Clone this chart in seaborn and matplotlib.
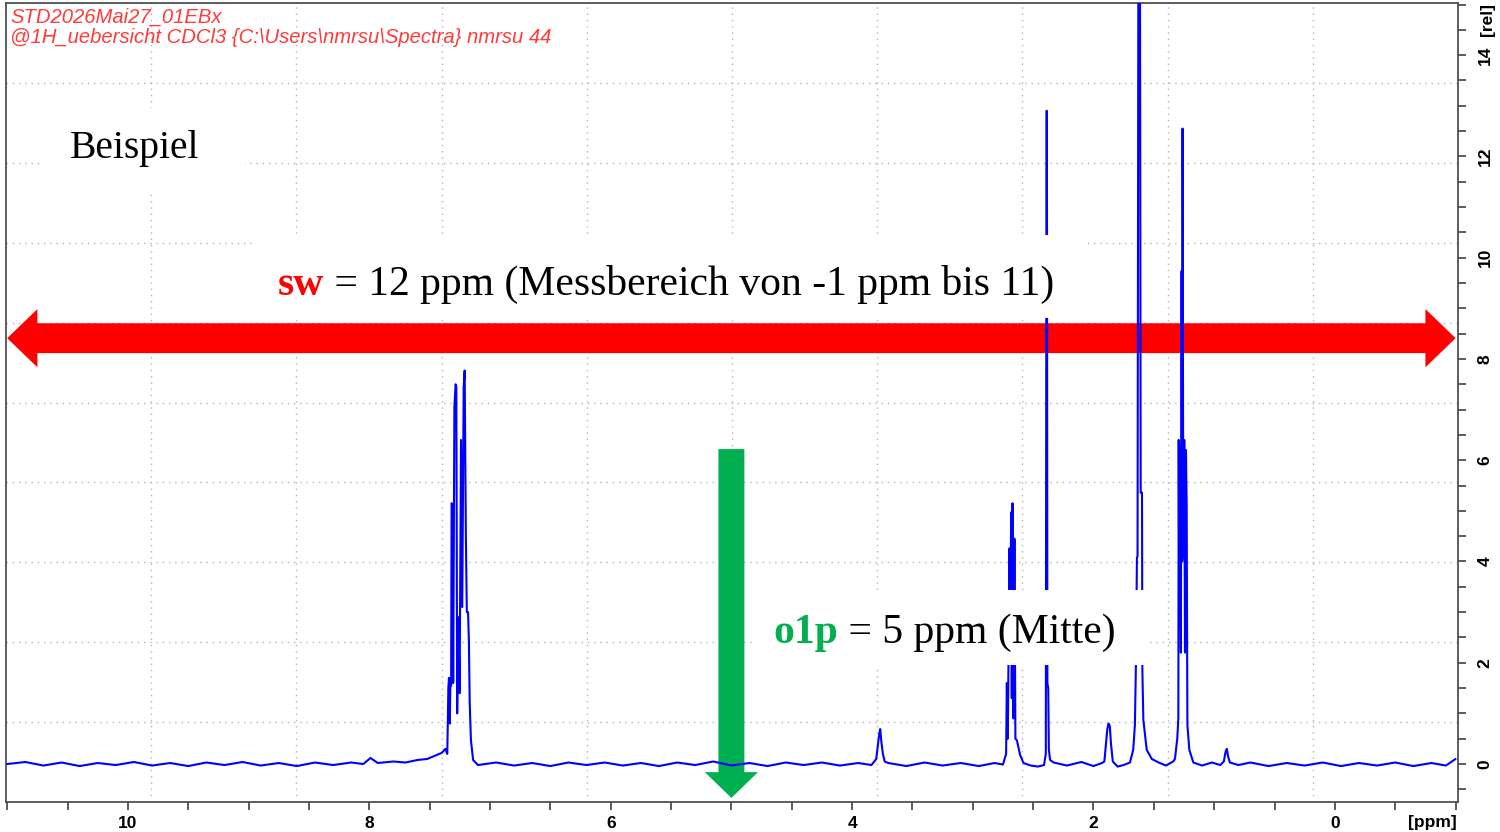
import matplotlib
matplotlib.use("Agg")
import matplotlib.pyplot as plt
from matplotlib.patches import Rectangle, FancyArrow, Polygon
from matplotlib.ticker import MultipleLocator
import pandas as pd
import seaborn as sns

# header of the spectrum window
title_1 = "STD2026Mai27_01EBx"
title_2 = "@1H_uebersicht CDCl3 {C:\\Users\\nmrsu\\Spectra} nmrsu 44"

# spectral window (ppm) and transmitter offset
sw_left = 11.0
sw_right = -1.0
o1p = 5.0

# spectrum trace, (ppm, rel), region by region
base_low = [(11.00, 0.00), (10.85, 0.04), (10.70, -0.03), (10.55, 0.03), (10.40, -0.04),
            (10.25, 0.02), (10.10, -0.02), (9.95, 0.04), (9.80, -0.03), (9.65, 0.02),
            (9.50, -0.04), (9.35, 0.03), (9.20, -0.02), (9.05, 0.04), (8.90, -0.03),
            (8.75, 0.02), (8.60, -0.04), (8.45, 0.03), (8.30, -0.02), (8.15, 0.03),
            (8.05, 0.00), (7.99, 0.12), (7.93, 0.02), (7.80, 0.05), (7.70, 0.03),
            (7.60, 0.08), (7.52, 0.10), (7.46, 0.16), (7.40, 0.22), (7.37, 0.30)]
arom = [(7.354, 0.20), (7.345, 1.50), (7.340, 1.70), (7.333, 0.80), (7.328, 1.70),
        (7.322, 1.55), (7.318, 5.15), (7.312, 5.10), (7.305, 1.60), (7.295, 7.05),
        (7.285, 7.50), (7.279, 7.45), (7.272, 1.00), (7.262, 2.90), (7.252, 1.40),
        (7.240, 6.40), (7.230, 3.10), (7.218, 7.45), (7.210, 7.77), (7.200, 4.50),
        (7.192, 3.00), (7.182, 3.00), (7.175, 2.45), (7.168, 1.20), (7.158, 0.47),
        (7.140, 0.08)]
base_mid = [(7.10, -0.02), (6.95, 0.03), (6.80, -0.03), (6.65, 0.02), (6.50, -0.04),
            (6.35, 0.03), (6.20, -0.02), (6.05, 0.03), (5.90, -0.03), (5.75, 0.02),
            (5.60, -0.04), (5.45, 0.03), (5.30, -0.02), (5.15, 0.05), (5.00, -0.03),
            (4.85, 0.02), (4.70, -0.04), (4.55, 0.03), (4.40, -0.02), (4.25, 0.03),
            (4.10, -0.03), (3.95, 0.02), (3.84, -0.02)]
peak_378 = [(3.800, 0.10), (3.785, 0.40), (3.775, 0.60), (3.767, 0.69), (3.758, 0.45),
            (3.745, 0.20), (3.730, 0.05)]
base_3 = [(3.70, 0.02), (3.55, -0.04), (3.40, 0.03), (3.25, -0.03), (3.10, 0.02),
          (2.95, -0.04), (2.82, 0.02), (2.75, -0.01)]
mult_27 = [(2.724, 0.20), (2.718, 1.60), (2.710, 0.50), (2.696, 4.26), (2.691, 2.20),
           (2.682, 4.97), (2.677, 1.30), (2.671, 5.15), (2.663, 0.90), (2.655, 4.45),
           (2.647, 0.50), (2.635, 0.47), (2.608, 0.18), (2.580, 0.02)]
base_25 = [(2.52, -0.03), (2.46, -0.05), (2.41, -0.02)]
peak_24 = [(2.395, 0.20), (2.389, 12.90), (2.386, 12.90), (2.382, 1.60), (2.375, 1.50),
           (2.370, 0.30), (2.360, 0.08)]
base_2 = [(2.33, 0.03), (2.22, -0.03), (2.10, 0.04), (2.00, -0.04), (1.93, 0.02)]
peak_187 = [(1.910, 0.05), (1.895, 0.45), (1.885, 0.70), (1.875, 0.80), (1.865, 0.75),
            (1.855, 0.40), (1.840, 0.05)]
base_18 = [(1.80, -0.05), (1.75, -0.02), (1.71, 0.02)]
peak_162 = [(1.698, 0.03), (1.671, 0.28), (1.657, 0.77), (1.649, 1.90), (1.640, 4.08),
            (1.635, 4.10), (1.628, 16.0), (1.615, 16.0), (1.609, 5.36), (1.598, 5.36),
            (1.595, 1.85), (1.587, 0.87), (1.559, 0.28), (1.517, 0.10)]
base_14 = [(1.46, 0.03), (1.40, -0.03), (1.34, 0.05)]
peak_127 = [(1.325, 0.10), (1.306, 0.50), (1.297, 0.90), (1.294, 6.40), (1.289, 2.70),
            (1.284, 6.30), (1.276, 2.20), (1.270, 9.74), (1.265, 4.00), (1.262, 12.55),
            (1.256, 4.10), (1.248, 6.40), (1.242, 2.20), (1.234, 6.20), (1.228, 5.10),
            (1.222, 0.77), (1.206, 0.28), (1.173, 0.03)]
base_1 = [(1.10, -0.03), (1.02, 0.03), (0.95, -0.02)]
bump_09 = [(0.920, 0.05), (0.905, 0.25), (0.895, 0.30), (0.885, 0.15), (0.870, 0.03)]
base_high = [(0.80, -0.02), (0.70, 0.03), (0.55, -0.04), (0.40, 0.02), (0.25, -0.03),
             (0.10, 0.03), (-0.05, -0.04), (-0.20, 0.02), (-0.35, -0.03), (-0.50, 0.03),
             (-0.65, -0.04), (-0.80, 0.02), (-0.92, -0.03), (-1.00, 0.10)]

regions = [base_low, arom, base_mid, peak_378, base_3, mult_27, base_25, peak_24,
           base_2, peak_187, base_18, peak_162, base_14, peak_127, base_1, bump_09,
           base_high]

W, H = 1500, 832


def fx(px):
    return px / W


def fy(py):
    return 1 - py / H


pts = [p for r in regions for p in r]
df = pd.DataFrame(pts, columns=["ppm", "rel"])

sns.set_style("white")
plt.rcParams['font.family'] = ['Liberation Sans', 'DejaVu Sans']
plt.rcParams['text.color'] = 'black'

fig = plt.figure(figsize=(15, 8.32), dpi=100)
ax = fig.add_axes([fx(6), fy(802), fx(1458) - fx(6), fy(3) - fy(802)])

sns.lineplot(data=df, x="ppm", y="rel", estimator=None, sort=False,
             color="#0000ff", lw=1.5, ax=ax, zorder=3)

ax.set_xlim(11.01, -1.02)
ax.set_ylim(-0.75, 15.03)

# dotted grid every tenth of the frame
for f in [0.1, 0.2, 0.3, 0.4, 0.5, 0.6, 0.7, 0.8, 0.9]:
    ax.plot([f, f], [0, 1], transform=ax.transAxes, color="#b4b4b4",
            ls=(0, (1, 3.5)), lw=1.0, zorder=1)
    ax.plot([0, 1], [f, f], transform=ax.transAxes, color="#b4b4b4",
            ls=(0, (1, 3.5)), lw=1.0, zorder=1)

ax.xaxis.set_major_locator(MultipleLocator(2))
ax.xaxis.set_minor_locator(MultipleLocator(0.5))
ax.yaxis.set_major_locator(MultipleLocator(2))
ax.yaxis.set_minor_locator(MultipleLocator(0.5))
ax.yaxis.tick_right()
ax.tick_params(axis="both", which="both", direction="out", length=6, width=1.2,
               color="#404040", labelcolor="black", bottom=True, right=True,
               left=False, top=False)
ax.tick_params(axis="x", labelsize=12.5, pad=4)
ax.tick_params(axis="y", labelsize=12.5, pad=8)
for lab in ax.get_xticklabels():
    lab.set_fontweight("bold")
for lab in ax.get_yticklabels():
    lab.set_fontweight("bold")
    lab.set_rotation(90)
    lab.set_va("center")
ax.set_xlabel("")
ax.set_ylabel("")
for s in ax.spines.values():
    s.set_color("#505050")
    s.set_linewidth(1.3)

fig.text(fx(1432), fy(822), "[ppm]", ha="center", va="center", fontsize=12.5,
         fontweight="bold")
fig.text(fx(1487), fy(19), "[rel]", ha="center", va="center", fontsize=12.5,
         fontweight="bold", rotation=90)

# double arrow over the spectral window, as one outline
y0, hw, hh, hl = 8.41, 0.295, 0.575, 0.25
sw_outline = [(sw_left, y0), (sw_left - hl, y0 + hh), (sw_left - hl, y0 + hw),
              (sw_right + hl, y0 + hw), (sw_right + hl, y0 + hh), (sw_right, y0),
              (sw_right + hl, y0 - hh), (sw_right + hl, y0 - hw),
              (sw_left - hl, y0 - hw), (sw_left - hl, y0 - hh)]
ax.add_patch(Polygon(sw_outline, closed=True, facecolor="#ff0000", lw=0,
                     zorder=2, clip_on=False))
# arrow pointing at o1p
ax.add_patch(FancyArrow(o1p, 6.22, 0, -0.67 - 6.22, width=0.215, head_width=0.44,
                        head_length=0.51, length_includes_head=True, color="#00b050",
                        lw=0, zorder=2, clip_on=False))

# white text boxes
for (x0, y0b, x1, y1) in [(42, 108, 245, 190), (255, 235, 1088, 318), (752, 590, 1146, 665)]:
    ax.add_patch(Rectangle((fx(x0), fy(y1)), fx(x1) - fx(x0), fy(y0b) - fy(y1),
                           transform=fig.transFigure, facecolor="white", lw=0,
                           zorder=4, clip_on=False))

ax.text(fx(10), fy(23), title_1, transform=fig.transFigure, color="#ff3b3b",
        fontsize=14.6, style="italic", zorder=5)
ax.text(fx(10), fy(43), title_2, transform=fig.transFigure, color="#ff3b3b",
        fontsize=14.6, style="italic", zorder=5)

serif = ['Liberation Serif', 'DejaVu Serif']
ax.text(fx(70), fy(158), "Beispiel", transform=fig.transFigure, family=serif,
        fontsize=28.5, color="black", zorder=5)

sw_txt = ax.text(fx(278), fy(295), "sw", transform=fig.transFigure, family=serif,
                 fontsize=30, fontweight="bold", color="#ff0000", zorder=5)
ax.annotate(" = 12 ppm (Messbereich von -1 ppm bis 11)", xy=(1, 0), xycoords=sw_txt,
            va="bottom", ha="left", family=serif, fontsize=30, color="black", zorder=5)

o1p_txt = ax.text(fx(773), fy(643), "o1p", transform=fig.transFigure, family=serif,
                  fontsize=30, fontweight="bold", color="#00b050", zorder=5)
ax.annotate(" = 5 ppm (Mitte)", xy=(1, 0), xycoords=o1p_txt,
            va="bottom", ha="left", family=serif, fontsize=30, color="black", zorder=5)

fig.savefig("out.png", dpi=100)
